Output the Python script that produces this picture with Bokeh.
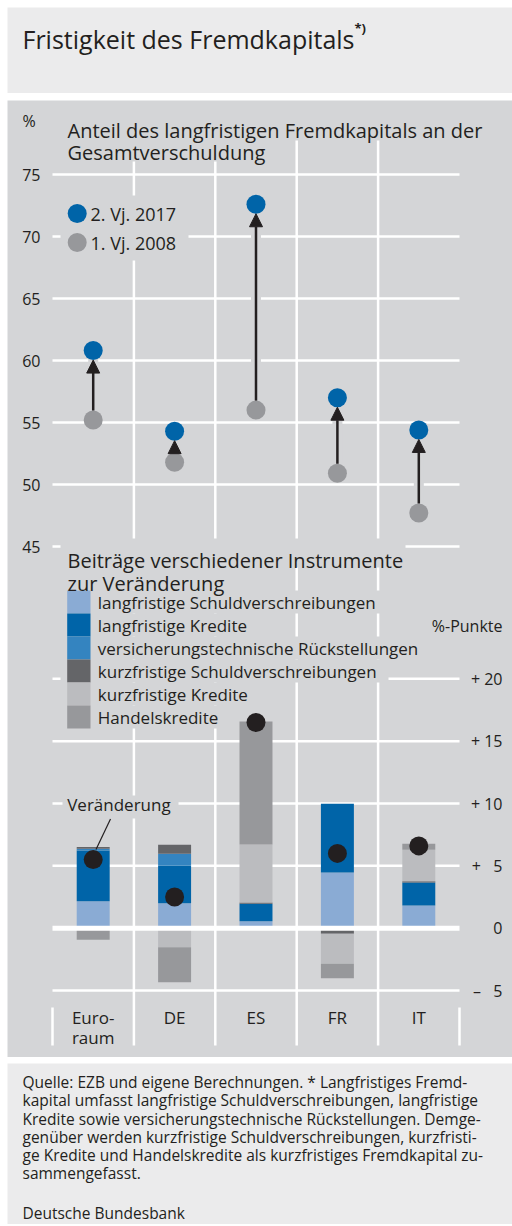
from bokeh.plotting import figure
from bokeh.models import Range1d, ColumnDataSource, Label, LabelSet, Arrow, NormalHead
from bokeh.layouts import column
from bokeh.embed import file_html
from bokeh.resources import INLINE
from bokeh.core.properties import value

# ---------------- data ----------------
categories = ["Euro-\nraum", "DE", "ES", "FR", "IT"]
share_2017 = [60.8, 54.3, 72.6, 57.0, 54.4]
share_2008 = [55.2, 51.8, 56.0, 50.9, 47.7]
share_ticks = [45, 50, 55, 60, 65, 70, 75]
series_top = ["2. Vj. 2017", "1. Vj. 2008"]

instruments = ["langfristige Schuldverschreibungen", "langfristige Kredite",
               "versicherungstechnische Rückstellungen", "kurzfristige Schuldverschreibungen",
               "kurzfristige Kredite", "Handelskredite"]
lang_schuldv = [2.17, 2.00, 0.56, 4.47, 1.82]
lang_kredite = [4.07, 3.03, 1.40, 5.51, 1.84]
vers_rueck = [0.14, 0.94, 0.00, 0.00, 0.00]
kurz_schuldv = [0.13, 0.72, 0.10, -0.45, 0.11]
kurz_kredite = [0.00, -1.52, 4.65, -2.41, 2.52]
handelskredite = [-0.93, -2.81, 9.87, -1.15, 0.48]
veraenderung = [5.5, 2.5, 16.5, 6.0, 6.6]
pp_ticks = [-5, 0, 5, 10, 15, 20]
pp_tick_labels = ["\u2013\u00a0\u00a0\u00a05", "0", "+\u00a0\u00a0\u00a05", "+ 10", "+ 15", "+ 20"]

title_text = "Fristigkeit des Fremdkapitals"
note_lines = [
    "Quelle: EZB und eigene Berechnungen. * Langfristiges Fremd-",
    "kapital umfasst langfristige Schuldverschreibungen, langfristige",
    "Kredite sowie versicherungstechnische Rückstellungen. Demge-",
    "genüber werden kurzfristige Schuldverschreibungen, kurzfristi-",
    "ge Kredite und Handelskredite als kurzfristiges Fremdkapital zu-",
    "sammengefasst.",
]
note_source = "Deutsche Bundesbank"

# ---------------- styles / layout ----------------
PANEL = "#d4d5d7"
LIGHT = "#ebebec"
INK = "#231f20"
BLUE = "#0064a8"
GRAY = "#97989b"
stack_colors = ["#8aabd4", "#0064a8", "#3484c0", "#646568", "#bbbcbf", "#97989b"]
FONT = "Open Sans"

FIG_W = 512
PAD_L = 7                      # white margin left of the panels
FW = FIG_W - PAD_L             # panel width
H_TITLE_PANEL, H_CHART, H_NOTE = 86, 957, 161
TOP = 100                      # page y of chart panel
CAT_PX = 81.4                  # px per category
X_START = -0.5 - (52 - PAD_L) / CAT_PX
PCT_PX = 12.4
TOP_END = 75 + (174 - TOP) / PCT_PX
PP_PX = 12.47
PP_END = (927.7 - TOP) / PP_PX


def X(px):
    return X_START + (px - PAD_L) / CAT_PX


def Y(py):
    return TOP_END - (py - TOP) / PCT_PX


def base_fig(h, xr, yr, bg, top=0):
    f = figure(width=FIG_W, height=h + top, x_range=xr, y_range=yr, x_axis_type=None, y_axis_type=None,
               toolbar_location=None, output_backend="svg", min_border=0)
    f.min_border_left = PAD_L
    f.min_border_top = top
    f.min_border_right = 0
    f.min_border_bottom = 0
    f.background_fill_color = bg
    f.border_fill_color = "white"
    f.outline_line_color = None
    return f


# ---------------- title ----------------
t = base_fig(H_TITLE_PANEL, Range1d(0, FW), Range1d(H_TITLE_PANEL, 0), LIGHT, top=7)
t.add_layout(Label(x=15, y=31.5, text=title_text, text_font=FONT, text_font_size="25px",
                   text_color=INK, text_baseline="alphabetic"))
t.add_layout(Label(x=347, y=20.5, text="*)", text_font=FONT, text_font_size="13px",
                   text_color=INK, text_baseline="alphabetic", text_font_style="bold"))

# ---------------- chart ----------------
p = base_fig(H_CHART, Range1d(X_START, X_START + FW / CAT_PX),
             Range1d(TOP_END - H_CHART / PCT_PX, TOP_END), PANEL, top=1)
p.extra_y_ranges = {"pp": Range1d(PP_END - H_CHART / PP_PX, PP_END)}

n = len(categories)
idx = list(range(n))
x_lo, x_hi = -0.5, n - 0.5

# grid lines
p.segment(x0=[x_lo] * len(share_ticks), x1=[x_hi] * len(share_ticks), y0=share_ticks, y1=share_ticks,
          line_color="white", line_width=2.5)
pp_grid = [v for v in pp_ticks if v != 0]
p.segment(x0=[x_lo] * len(pp_grid), x1=[x_hi] * len(pp_grid), y0=pp_grid, y1=pp_grid,
          line_color="white", line_width=2.5, y_range_name="pp")
seps = [i + 0.5 for i in idx[:-1]]
p.segment(x0=seps, x1=seps, y0=[Y(140)] * len(seps), y1=[Y(1045)] * len(seps),
          line_color="white", line_width=2.5)
p.segment(x0=[x_lo, x_hi], x1=[x_lo, x_hi], y0=[Y(1007)] * 2, y1=[Y(1045)] * 2,
          line_color="white", line_width=2.5)

# knock-out behind arrows
p.segment(x0=idx, x1=idx, y0=share_2008, y1=share_2017, line_color=PANEL, line_width=10)

# text backgrounds (left, right, top, bottom in page px)
bg_boxes = [(60, 270, 139, 161), (60, 188, 195, 260),
            (60, 405, 538, 567), (60, 232, 567, 590),
            (60, 388, 590, 613), (60, 262, 613, 636), (60, 430, 636, 659),
            (60, 388, 659, 682), (60, 262, 682, 705), (60, 228, 705, 728),
            (62, 178, 795, 818)]
p.quad(left=[X(b[0]) for b in bg_boxes], right=[X(b[1]) for b in bg_boxes],
       top=[Y(b[2]) for b in bg_boxes], bottom=[Y(b[3]) for b in bg_boxes],
       fill_color=PANEL, line_color=None)

# stacked bars
cols = [lang_schuldv, lang_kredite, vers_rueck, kurz_schuldv, kurz_kredite, handelskredite]
keys = ["lsv", "lk", "vr", "ksv", "kk", "hk"]
bar_data = {"x": idx}
for k, c in zip(keys, cols):
    bar_data[k + "_pos"] = [max(v, 0) for v in c]
    bar_data[k + "_neg"] = [min(v, 0) for v in c]
bsrc = ColumnDataSource(bar_data)
p.vbar_stack([k + "_pos" for k in keys], x="x", width=0.405, fill_color=stack_colors,
             line_color=None, source=bsrc, y_range_name="pp")
p.vbar_stack([k + "_neg" for k in keys], x="x", width=0.405, fill_color=stack_colors,
             line_color=None, source=bsrc, y_range_name="pp")
p.segment(x0=[x_lo], x1=[x_hi], y0=[0], y1=[0], line_color="white", line_width=5, y_range_name="pp")

# pointer for "Veränderung"
p.segment(x0=[X(110)], y0=[Y(818.5)], x1=[X(95.5)], y1=[Y(849)], line_color=INK, line_width=1.2)
p.scatter(idx, veraenderung, size=19, fill_color=INK, line_color=None, y_range_name="pp")

# top chart points
p.scatter(idx, share_2008, size=19, fill_color=GRAY, line_color=None)
p.scatter(idx, share_2017, size=19, fill_color=BLUE, line_color=None)

r = 9.5 / PCT_PX
asrc = ColumnDataSource(dict(x=idx, y0=[v + r for v in share_2008], y1=[v - r for v in share_2017]))
p.add_layout(Arrow(source=asrc, x_start="x", y_start="y0", x_end="x", y_end="y1",
                   line_color=INK, line_width=2.5,
                   end=NormalHead(size=13, fill_color=INK, line_color=INK, line_width=1)))

# top legend
p.scatter([X(76.7)] * 2, [Y(213), Y(242)], size=19, fill_color=[BLUE, GRAY], line_color=None)
for lab, py in zip(series_top, [213, 242]):
    p.add_layout(Label(x=X(90), y=Y(py), text=lab, text_font=FONT, text_font_size="18px",
                       text_color=INK, text_baseline="middle"))

# bottom legend
for k, (lab, col) in enumerate(zip(instruments, stack_colors)):
    p.quad(left=[X(66.7)], right=[X(90)], top=[Y(590 + 23 * k)], bottom=[Y(613 + 23 * k)],
           fill_color=col, line_color=None)
    p.add_layout(Label(x=X(97.3), y=Y(601.5 + 23 * k), text=lab, text_font=FONT, text_font_size="17px",
                       text_color=INK, text_baseline="middle"))


def lbl(txt, px, py, size, align="left", baseline="alphabetic"):
    p.add_layout(Label(x=X(px), y=Y(py), text=txt, text_font=FONT, text_font_size=size,
                       text_color=INK, text_align=align, text_baseline=baseline))


lbl("%", 22, 120, "16px", baseline="middle")
lbl("Anteil des langfristigen Fremdkapitals an der", 67, 129.5, "20px")
lbl("Gesamtverschuldung", 67, 151.5, "20px")
lbl("Beiträge verschiedener Instrumente", 67, 559.5, "20px")
lbl("zur Veränderung", 67, 582.5, "20px")
lbl("%-Punkte", 502, 625, "16px", align="right", baseline="middle")
lbl("Veränderung", 66.7, 804, "17px", baseline="middle")

# tick labels
tsrc = ColumnDataSource(dict(x=[X(40)] * len(share_ticks), y=share_ticks, t=[str(v) for v in share_ticks]))
p.add_layout(LabelSet(x="x", y="y", text="t", source=tsrc, text_align="right", text_baseline="middle",
                      text_font=value(FONT), text_font_size="16px", text_color=INK))
bsrc2 = ColumnDataSource(dict(x=[X(502)] * len(pp_ticks), y=pp_ticks, t=pp_tick_labels))
p.add_layout(LabelSet(x="x", y="y", text="t", source=bsrc2, y_range_name="pp", text_align="right",
                      text_baseline="middle", text_font=value(FONT), text_font_size="16px", text_color=INK))

# category labels
csrc = ColumnDataSource(dict(x=idx, y=[Y(1005)] * n, t=categories))
p.add_layout(LabelSet(x="x", y="y", text="t", source=csrc, text_align="center", text_baseline="top",
                      text_font=value(FONT), text_font_size="17px", text_color=INK,
                      text_line_height=0.87))

# ---------------- footnote ----------------
nf = base_fig(H_NOTE, Range1d(0, FW), Range1d(H_NOTE, 0), LIGHT, top=0)
for i, line in enumerate(note_lines):
    nf.add_layout(Label(x=15, y=18.7 + 18.2 * i, text=line, text_font=FONT, text_font_size="15.5px",
                        text_color=INK, text_baseline="middle"))
nf.add_layout(Label(x=15, y=149.5, text=note_source, text_font=FONT, text_font_size="15.5px",
                    text_color=INK, text_baseline="middle"))

layout = column(t, p, nf, spacing=6)
open("out.html", "w").write(file_html(layout, INLINE))
